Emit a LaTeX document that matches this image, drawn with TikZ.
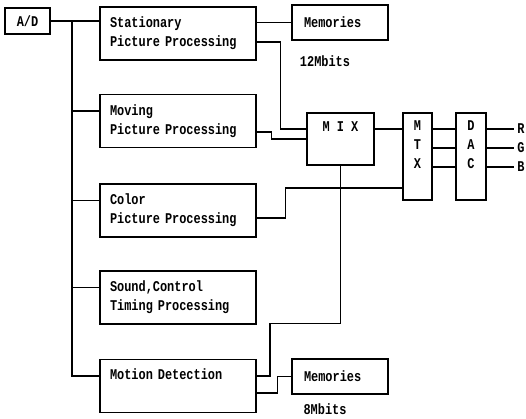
\documentclass[tikz,border=0pt]{standalone}
\usepackage{fontspec}
\setmonofont{Liberation Mono}[FakeStretch=0.8]
\usetikzlibrary{positioning}

\begin{document}
\begin{tikzpicture}[x=1pt,y=-1pt,line width=1.2pt,
    every node/.style={font=\ttfamily\bfseries\fontsize{14.9}{19}\selectfont},
    procbox/.style={draw,inner xsep=10pt,inner ysep=0pt,minimum height=53pt,text width=136pt,align=left},
    membox/.style={draw,inner xsep=12pt,inner ysep=0pt,minimum height=35pt,text width=72pt,align=left},
    tallbox/.style={draw,inner sep=0pt,minimum height=87pt,align=center}]
    \useasboundingbox (0,0) rectangle (526,419);
    \node[draw,minimum width=45pt,minimum height=26pt,inner sep=0pt] (ad) at (27.5,21) {A/D};
    \node[procbox] (stat) at (178,33.5) {Stationary\\Picture Processing};
    \node[procbox] (moving) at (178,121) {Moving\\Picture Processing};
    \node[procbox] (color) at (178,210.5) {Color\\Picture Processing};
    \node[procbox] (sound) at (178,297.5) {Sound,Control\\Timing Processing};
    \node[procbox] (motion) at (178,386) {Motion Detection\\\strut};
    \node[membox] (mem1) at (340,22.5) {Memories};
    \node (bits12) at (325,61) {12Mbits};
    \node[membox] (mem2) at (340,376.5) {Memories};
    \node (bits8) at (325,409) {8Mbits};
    \node[draw,minimum width=67pt,minimum height=52pt,inner sep=0pt,align=center] (mix) at (340.5,139) {M I X\\\strut};
    \node[tallbox,minimum width=29pt] (mtx) at (417.5,156.5) {M\\T\\X\\\strut};
    \node[tallbox,minimum width=30pt] (dac) at (471,156.5) {D\\A\\C\\\strut};
    \node (r) at (521,129) {R};
    \node (g) at (521,148) {G};
    \node (b) at (521,167) {B};
    % input bus
    \coordinate (bus) at (72,21);
    \draw (ad.east) -- (ad.east -| stat.west);
    \draw (bus) |- ([yshift=10pt]motion.west);
    \foreach \n in {moving,color,sound}
        \draw ([yshift=10pt]\n.west) -- ++(-28,0);
    % processing outputs
    \draw (mem1.west -| stat.east) -- (mem1.west);
    \draw ([yshift=-8.5pt]stat.east) -- ++(24,0) |- ([yshift=10pt]mix.west);
    \draw ([yshift=-11pt]moving.east) -- ++(15,0) |- (mix.west);
    \draw ([yshift=-7.5pt]color.east) -- ++(29,0) |- ([yshift=-31.5pt]mtx.west);
    \draw (mix.south) -- ++(0,158) -- ++(-70.5,0) |- ([yshift=10pt]motion.east);
    \draw ([yshift=-7pt]motion.east) -- ++(21,0) |- (mem2.west);
    % output stage
    \draw ([yshift=10pt]mix.east) -- ++(29,0);
    \foreach \c in {r,g,b} {
        \draw (mtx.east |- \c) -- (dac.west |- \c);
        \draw (dac.east |- \c) -- (\c.west);
    }
\end{tikzpicture}
\end{document}
